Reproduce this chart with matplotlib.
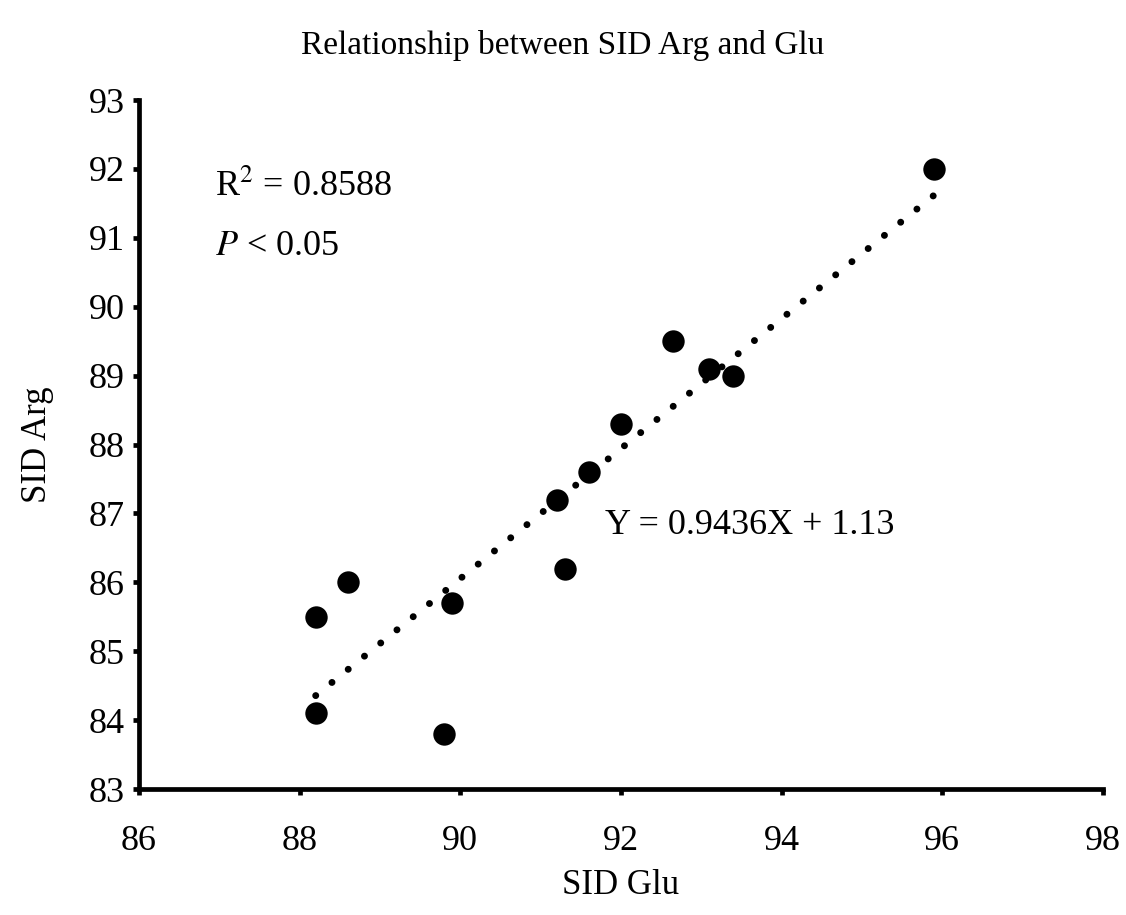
import matplotlib
matplotlib.use("Agg")
import matplotlib.pyplot as plt
import numpy as np

plt.rcParams['font.family'] = ['Liberation Serif', 'DejaVu Serif']
plt.rcParams['mathtext.fontset'] = 'stix'

# SID Glu (x) and SID Arg (y) values
sid_glu = [95.9, 92.65, 93.1, 93.4, 92.0, 91.6, 91.2, 91.3, 89.9, 88.6, 88.2, 88.2, 89.8]
sid_arg = [92.0, 89.5, 89.1, 89.0, 88.3, 87.6, 87.2, 86.2, 85.7, 86.0, 85.5, 84.1, 83.8]

# trendline reported on the chart
slope = 0.9436
intercept = 1.13

x_ticks = [86, 88, 90, 92, 94, 96, 98]
y_ticks = [83, 84, 85, 86, 87, 88, 89, 90, 91, 92, 93]

fig = plt.figure(figsize=(11.26, 9.15), dpi=100)
ax = fig.add_axes([0.1234, 0.1377, 0.8562, 0.7530])

# dotted trendline from min to max x
line_x = np.array([min(sid_glu), max(sid_glu)])
ax.plot(line_x, slope * line_x + intercept, color='black', linewidth=5,
        linestyle=(0, (0.01, 3.0)), dash_capstyle='round', zorder=2)

ax.scatter(sid_glu, sid_arg, s=260, color='black', zorder=3, linewidths=0)

ax.set_xlim(86, 98)
ax.set_ylim(83, 93)
ax.set_xticks(x_ticks)
ax.set_yticks(y_ticks)

for side in ['top', 'right']:
    ax.spines[side].set_visible(False)
for side in ['left', 'bottom']:
    ax.spines[side].set_linewidth(3.4)
ax.tick_params(direction='out', length=4, width=3.4, labelsize=26)
ax.tick_params(axis='x', pad=22)
ax.tick_params(axis='y', pad=6)

ax.set_xlabel('SID Glu', fontsize=25, labelpad=8)
ax.set_ylabel('SID Arg', fontsize=25, labelpad=25)
fig.suptitle('Relationship between SID Arg and Glu', fontsize=24, y=0.967)

ax.text(86.95, 91.6, r'R$^{2}$ = 0.8588', fontsize=26)
ax.text(86.95, 90.75, r'$P$ < 0.05', fontsize=26)
ax.text(91.8, 86.7, 'Y = 0.9436X + 1.13', fontsize=26)

fig.savefig('out.png', dpi=100)
